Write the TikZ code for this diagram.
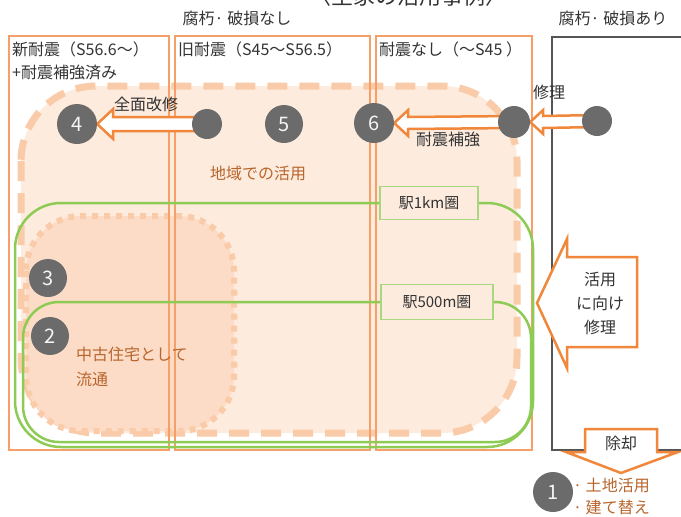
\documentclass[tikz,border=0pt]{standalone}
\usepackage{fontspec}
\setmainfont{Noto Sans CJK JP}
\usetikzlibrary{calc}
\pgfdeclarelayer{bg}
\pgfdeclarelayer{arr}
\pgfsetlayers{bg,arr,main}
\definecolor{colline}{HTML}{F4A068}
\definecolor{arrline}{HTML}{F0873A}
\definecolor{peach}{HTML}{FDEBDD}
\definecolor{peachdk}{HTML}{FCDCC6}
\definecolor{dashc}{HTML}{FACBA8}
\definecolor{grn}{HTML}{8DCB55}
\definecolor{grnbox}{HTML}{A9D77F}
\definecolor{circ}{HTML}{6B6B6B}
\definecolor{brn}{HTML}{B8652C}
\definecolor{txt}{HTML}{333333}
\definecolor{blk}{HTML}{555555}
\tikzset{
  jp/.style={font=\fontsize{16}{20}\selectfont, text=txt, inner sep=0},
  brtext/.style={font=\fontsize{16}{25}\selectfont, text=brn, inner sep=0},
  colbox/.style={draw=colline, line width=2},
  grnline/.style={draw=grn, line width=2.5},
  gbox/.style={draw=grnbox, line width=1.5, fill=peach, font=\fontsize{15}{18}\selectfont, text=txt, inner sep=0},
  numc/.style={circle, fill=circ, text=white!92!gray, font=\fontsize{20}{20}\selectfont, inner sep=0},
  dotc/.style={circle, fill=circ, inner sep=0},
  blockarr/.style={fill=white, draw=arrline, line width=2.5, line join=miter},
}
\begin{document}
\begin{tikzpicture}[x=1pt,y=1pt]
\useasboundingbox (0,0) rectangle (681,-517);

% title (cut off at top, as in the reference)
\node[jp, font=\fontsize{22}{24}\selectfont, anchor=base] (title) at (408,-4) {〈空家の活用事例〉};

% top labels
\node[jp] (nodmg) at (237,-18) {腐朽· 破損なし};
\node[jp] (dmg) at (613,-18) {腐朽· 破損あり};

\begin{pgfonlayer}{bg}
  \fill[white] (0,0) rectangle (681,-517);
  % big dashed region
  \path[fill=peach, draw=dashc, line width=7, dash pattern=on 20 off 12, rounded corners=75] (21,-86) rectangle (517,-433);
  % inner dotted region
  \path[fill=peachdk, draw=dashc, line width=6, dash pattern=on 6 off 6, rounded corners=55] (26,-216) rectangle (234,-431);
  % columns
  \draw[colbox] (9,-36) rectangle (169,-450);
  \draw[colbox] (175,-36) rectangle (370,-450);
  \draw[colbox] (376,-36) rectangle (532,-450);
  \draw[blk, line width=1.5] (690,-37) -- (552,-37) -- (552,-450) -- (690,-450);
  % green station areas
  \draw[grnline, rounded corners=46] (15,-203) rectangle (533,-447);
  \draw[grnline, rounded corners=36] (23,-302) rectangle (531,-442);
\end{pgfonlayer}

% column headers
\node[jp, anchor=west] (h1) at (12,-49) {新耐震（S56.6〜）};
\node[jp, anchor=west] (h1b) at (12,-72) {+耐震補強済み};
\node[jp, anchor=west] (h2) at (178,-49) {旧耐震（S45〜S56.5）};
\node[jp, anchor=west] (h3) at (379,-49) {耐震なし（〜S45 ）};

% texts
\node[brtext] (region) at (258,-173) {地域での活用};
\node[brtext, anchor=west, align=left] (used) at (76,-367) {中古住宅として\\流通};

% station labels
\node[gbox, minimum width=98, minimum height=33] (km1) at (429,-203) {駅1km圏};
\node[gbox, minimum width=112, minimum height=35] (m500) at (437,-302) {駅500m圏};

% circles
\node[numc, minimum size=40] (c4) at (77,-124) {4};
\node[dotc, minimum size=30] (pA) at (207,-124) {};
\node[numc, minimum size=38] (c5) at (284,-124) {5};
\node[numc, minimum size=40] (c6) at (374,-123) {6};
\node[dotc, minimum size=32] (pB) at (514,-122) {};
\node[dotc, minimum size=30] (pC) at (597,-121) {};
\node[numc, minimum size=38] (c3) at (48,-278) {3};
\node[numc, minimum size=38] (c2) at (50,-336) {2};
\node[numc, minimum size=40] (c1) at (553,-492) {1};

% arrow labels
\node[jp] (lbA) at (146,-104) {全面改修};
\node[jp] (lbB) at (448,-139) {耐震補強};
\node[jp] (lbC) at (549,-92) {修理};

\begin{pgfonlayer}{arr}
  % 全面改修 : pA -> c4
  \draw[blockarr] (c4.east) -- ++(16,15) -- ++(0,-8) -- ($(pA.center)+(0,7)$) -- ++(0,-14) -- ($(c4.east)+(16,-7)$) -- ++(0,-8) -- cycle;
  % 耐震補強 : pB -> c6
  \draw[blockarr] (c6.east) -- ++(14,13) -- ++(0,-7) -- ($(pB.center)+(0,6)$) -- ++(0,-12) -- ($(c6.east)+(14,-6)$) -- ++(0,-7) -- cycle;
  % 修理 : pC -> pB
  \draw[blockarr] (pB.east) -- ++(13,12) -- ++(0,-6) -- ($(pC.center)+(0,6)$) -- ++(0,-12) -- ($(pB.east)+(13,-6)$) -- ++(0,-6) -- cycle;
  % 活用に向け修理
  \draw[blockarr] (537,-303) -- (567,-239) -- (567,-257) -- (637,-257) -- (637,-347) -- (567,-347) -- (567,-368) -- cycle;
  % 除却
  \draw[blockarr] (585,-429) -- (657,-429) -- (657,-452) -- (678,-452) -- (621,-473) -- (566,-452) -- (585,-452) -- cycle;
\end{pgfonlayer}

\node[jp, align=center, font=\fontsize{16}{24}\selectfont] (repair) at (600,-303) {活用\\に向け\\修理};
\node[jp] (demol) at (621,-443) {除却};
\node[brtext, anchor=west, align=left, font=\fontsize{16}{22}\selectfont] (reuse) at (573,-496) {· 土地活用\\· 建て替え};
\end{tikzpicture}
\end{document}
